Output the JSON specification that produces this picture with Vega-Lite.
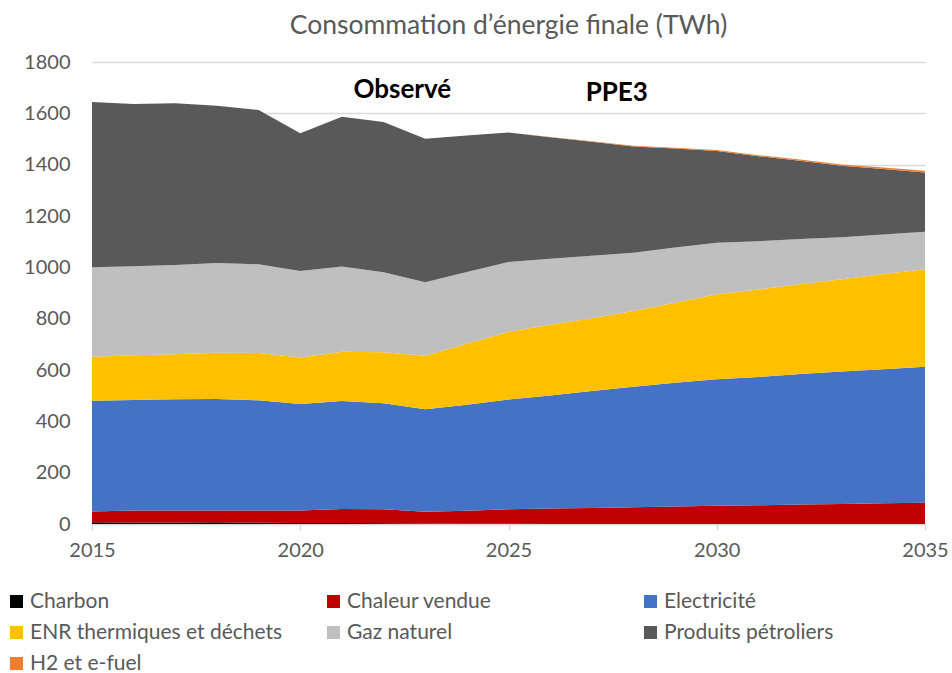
{
  "$schema": "https://vega.github.io/schema/vega-lite/v6.json",
  "width": 833,
  "height": 462,
  "autosize": {"type": "none"},
  "padding": {"left": 92, "top": 62, "right": 27, "bottom": 149},
  "background": "white",
  "config": {
    "font": "Lato",
    "view": {"stroke": null},
    "axis": {"labelFont": "Lato", "labelColor": "#595959", "labelFontSize": 20}
  },
  "title": {
    "text": "Consommation d’énergie finale (TWh)",
    "font": "Lato",
    "fontSize": 26.5,
    "fontWeight": "normal",
    "color": "#595959",
    "anchor": "middle",
    "offset": 13
  },
  "datasets": {
    "ordre": [
      {"energie": "Charbon", "rang": 1},
      {"energie": "Chaleur vendue", "rang": 2},
      {"energie": "Electricité", "rang": 3},
      {"energie": "ENR thermiques et déchets", "rang": 4},
      {"energie": "Gaz naturel", "rang": 5},
      {"energie": "Produits pétroliers", "rang": 6},
      {"energie": "H2 et e-fuel", "rang": 7}
    ],
    "conso": [
      {"annee": 2015, "energie": "Charbon", "valeur": 7}, {"annee": 2015, "energie": "Chaleur vendue", "valeur": 42}, {"annee": 2015, "energie": "Electricité", "valeur": 431}, {"annee": 2015, "energie": "ENR thermiques et déchets", "valeur": 172}, {"annee": 2015, "energie": "Gaz naturel", "valeur": 348}, {"annee": 2015, "energie": "Produits pétroliers", "valeur": 644}, {"annee": 2015, "energie": "H2 et e-fuel", "valeur": 0},
      {"annee": 2016, "energie": "Charbon", "valeur": 6}, {"annee": 2016, "energie": "Chaleur vendue", "valeur": 47}, {"annee": 2016, "energie": "Electricité", "valeur": 430}, {"annee": 2016, "energie": "ENR thermiques et déchets", "valeur": 174}, {"annee": 2016, "energie": "Gaz naturel", "valeur": 347}, {"annee": 2016, "energie": "Produits pétroliers", "valeur": 632}, {"annee": 2016, "energie": "H2 et e-fuel", "valeur": 0},
      {"annee": 2017, "energie": "Charbon", "valeur": 6}, {"annee": 2017, "energie": "Chaleur vendue", "valeur": 47}, {"annee": 2017, "energie": "Electricité", "valeur": 433}, {"annee": 2017, "energie": "ENR thermiques et déchets", "valeur": 175}, {"annee": 2017, "energie": "Gaz naturel", "valeur": 348}, {"annee": 2017, "energie": "Produits pétroliers", "valeur": 630}, {"annee": 2017, "energie": "H2 et e-fuel", "valeur": 0},
      {"annee": 2018, "energie": "Charbon", "valeur": 7}, {"annee": 2018, "energie": "Chaleur vendue", "valeur": 46}, {"annee": 2018, "energie": "Electricité", "valeur": 434}, {"annee": 2018, "energie": "ENR thermiques et déchets", "valeur": 180}, {"annee": 2018, "energie": "Gaz naturel", "valeur": 350}, {"annee": 2018, "energie": "Produits pétroliers", "valeur": 613}, {"annee": 2018, "energie": "H2 et e-fuel", "valeur": 0},
      {"annee": 2019, "energie": "Charbon", "valeur": 5}, {"annee": 2019, "energie": "Chaleur vendue", "valeur": 48}, {"annee": 2019, "energie": "Electricité", "valeur": 429}, {"annee": 2019, "energie": "ENR thermiques et déchets", "valeur": 184}, {"annee": 2019, "energie": "Gaz naturel", "valeur": 346}, {"annee": 2019, "energie": "Produits pétroliers", "valeur": 601}, {"annee": 2019, "energie": "H2 et e-fuel", "valeur": 0},
      {"annee": 2020, "energie": "Charbon", "valeur": 4}, {"annee": 2020, "energie": "Chaleur vendue", "valeur": 49}, {"annee": 2020, "energie": "Electricité", "valeur": 415}, {"annee": 2020, "energie": "ENR thermiques et déchets", "valeur": 181}, {"annee": 2020, "energie": "Gaz naturel", "valeur": 337}, {"annee": 2020, "energie": "Produits pétroliers", "valeur": 536}, {"annee": 2020, "energie": "H2 et e-fuel", "valeur": 0},
      {"annee": 2021, "energie": "Charbon", "valeur": 4}, {"annee": 2021, "energie": "Chaleur vendue", "valeur": 54}, {"annee": 2021, "energie": "Electricité", "valeur": 421}, {"annee": 2021, "energie": "ENR thermiques et déchets", "valeur": 192}, {"annee": 2021, "energie": "Gaz naturel", "valeur": 332}, {"annee": 2021, "energie": "Produits pétroliers", "valeur": 584}, {"annee": 2021, "energie": "H2 et e-fuel", "valeur": 0},
      {"annee": 2022, "energie": "Charbon", "valeur": 3}, {"annee": 2022, "energie": "Chaleur vendue", "valeur": 54}, {"annee": 2022, "energie": "Electricité", "valeur": 413}, {"annee": 2022, "energie": "ENR thermiques et déchets", "valeur": 199}, {"annee": 2022, "energie": "Gaz naturel", "valeur": 312}, {"annee": 2022, "energie": "Produits pétroliers", "valeur": 585}, {"annee": 2022, "energie": "H2 et e-fuel", "valeur": 0},
      {"annee": 2023, "energie": "Charbon", "valeur": 2}, {"annee": 2023, "energie": "Chaleur vendue", "valeur": 46}, {"annee": 2023, "energie": "Electricité", "valeur": 399}, {"annee": 2023, "energie": "ENR thermiques et déchets", "valeur": 209}, {"annee": 2023, "energie": "Gaz naturel", "valeur": 286}, {"annee": 2023, "energie": "Produits pétroliers", "valeur": 559}, {"annee": 2023, "energie": "H2 et e-fuel", "valeur": 0},
      {"annee": 2024, "energie": "Charbon", "valeur": 1}, {"annee": 2024, "energie": "Chaleur vendue", "valeur": 51}, {"annee": 2024, "energie": "Electricité", "valeur": 413}, {"annee": 2024, "energie": "ENR thermiques et déchets", "valeur": 237}, {"annee": 2024, "energie": "Gaz naturel", "valeur": 280}, {"annee": 2024, "energie": "Produits pétroliers", "valeur": 532}, {"annee": 2024, "energie": "H2 et e-fuel", "valeur": 0},
      {"annee": 2025, "energie": "Charbon", "valeur": 1}, {"annee": 2025, "energie": "Chaleur vendue", "valeur": 56}, {"annee": 2025, "energie": "Electricité", "valeur": 428}, {"annee": 2025, "energie": "ENR thermiques et déchets", "valeur": 264}, {"annee": 2025, "energie": "Gaz naturel", "valeur": 272}, {"annee": 2025, "energie": "Produits pétroliers", "valeur": 504}, {"annee": 2025, "energie": "H2 et e-fuel", "valeur": 0},
      {"annee": 2026, "energie": "Charbon", "valeur": 0}, {"annee": 2026, "energie": "Chaleur vendue", "valeur": 60}, {"annee": 2026, "energie": "Electricité", "valeur": 441}, {"annee": 2026, "energie": "ENR thermiques et déchets", "valeur": 275}, {"annee": 2026, "energie": "Gaz naturel", "valeur": 257}, {"annee": 2026, "energie": "Produits pétroliers", "valeur": 474}, {"annee": 2026, "energie": "H2 et e-fuel", "valeur": 1},
      {"annee": 2027, "energie": "Charbon", "valeur": 0}, {"annee": 2027, "energie": "Chaleur vendue", "valeur": 62}, {"annee": 2027, "energie": "Electricité", "valeur": 456}, {"annee": 2027, "energie": "ENR thermiques et déchets", "valeur": 284}, {"annee": 2027, "energie": "Gaz naturel", "valeur": 243}, {"annee": 2027, "energie": "Produits pétroliers", "valeur": 444}, {"annee": 2027, "energie": "H2 et e-fuel", "valeur": 2},
      {"annee": 2028, "energie": "Charbon", "valeur": 0}, {"annee": 2028, "energie": "Chaleur vendue", "valeur": 65}, {"annee": 2028, "energie": "Electricité", "valeur": 470}, {"annee": 2028, "energie": "ENR thermiques et déchets", "valeur": 295}, {"annee": 2028, "energie": "Gaz naturel", "valeur": 227}, {"annee": 2028, "energie": "Produits pétroliers", "valeur": 414}, {"annee": 2028, "energie": "H2 et e-fuel", "valeur": 3},
      {"annee": 2029, "energie": "Charbon", "valeur": 0}, {"annee": 2029, "energie": "Chaleur vendue", "valeur": 68}, {"annee": 2029, "energie": "Electricité", "valeur": 482}, {"annee": 2029, "energie": "ENR thermiques et déchets", "valeur": 312}, {"annee": 2029, "energie": "Gaz naturel", "valeur": 215}, {"annee": 2029, "energie": "Produits pétroliers", "valeur": 386}, {"annee": 2029, "energie": "H2 et e-fuel", "valeur": 3},
      {"annee": 2030, "energie": "Charbon", "valeur": 0}, {"annee": 2030, "energie": "Chaleur vendue", "valeur": 71}, {"annee": 2030, "energie": "Electricité", "valeur": 493}, {"annee": 2030, "energie": "ENR thermiques et déchets", "valeur": 331}, {"annee": 2030, "energie": "Gaz naturel", "valeur": 201}, {"annee": 2030, "energie": "Produits pétroliers", "valeur": 357}, {"annee": 2030, "energie": "H2 et e-fuel", "valeur": 4},
      {"annee": 2031, "energie": "Charbon", "valeur": 0}, {"annee": 2031, "energie": "Chaleur vendue", "valeur": 73}, {"annee": 2031, "energie": "Electricité", "valeur": 500}, {"annee": 2031, "energie": "ENR thermiques et déchets", "valeur": 341}, {"annee": 2031, "energie": "Gaz naturel", "valeur": 188}, {"annee": 2031, "energie": "Produits pétroliers", "valeur": 331}, {"annee": 2031, "energie": "H2 et e-fuel", "valeur": 4},
      {"annee": 2032, "energie": "Charbon", "valeur": 0}, {"annee": 2032, "energie": "Chaleur vendue", "valeur": 76}, {"annee": 2032, "energie": "Electricité", "valeur": 508}, {"annee": 2032, "energie": "ENR thermiques et déchets", "valeur": 350}, {"annee": 2032, "energie": "Gaz naturel", "valeur": 176}, {"annee": 2032, "energie": "Produits pétroliers", "valeur": 305}, {"annee": 2032, "energie": "H2 et e-fuel", "valeur": 5},
      {"annee": 2033, "energie": "Charbon", "valeur": 0}, {"annee": 2033, "energie": "Chaleur vendue", "valeur": 78}, {"annee": 2033, "energie": "Electricité", "valeur": 516}, {"annee": 2033, "energie": "ENR thermiques et déchets", "valeur": 360}, {"annee": 2033, "energie": "Gaz naturel", "valeur": 163}, {"annee": 2033, "energie": "Produits pétroliers", "valeur": 279}, {"annee": 2033, "energie": "H2 et e-fuel", "valeur": 5},
      {"annee": 2034, "energie": "Charbon", "valeur": 0}, {"annee": 2034, "energie": "Chaleur vendue", "valeur": 81}, {"annee": 2034, "energie": "Electricité", "valeur": 522}, {"annee": 2034, "energie": "ENR thermiques et déchets", "valeur": 371}, {"annee": 2034, "energie": "Gaz naturel", "valeur": 154}, {"annee": 2034, "energie": "Produits pétroliers", "valeur": 255}, {"annee": 2034, "energie": "H2 et e-fuel", "valeur": 6},
      {"annee": 2035, "energie": "Charbon", "valeur": 0}, {"annee": 2035, "energie": "Chaleur vendue", "valeur": 83}, {"annee": 2035, "energie": "Electricité", "valeur": 530}, {"annee": 2035, "energie": "ENR thermiques et déchets", "valeur": 380}, {"annee": 2035, "energie": "Gaz naturel", "valeur": 146}, {"annee": 2035, "energie": "Produits pétroliers", "valeur": 230}, {"annee": 2035, "energie": "H2 et e-fuel", "valeur": 7}
    ],
    "etiquettes": [
      {"annee": 2022.45, "valeur": 1690, "texte": "Observé"},
      {"annee": 2027.6, "valeur": 1680, "texte": "PPE3"}
    ]
  },
  "layer": [
    {
      "data": {"name": "conso"},
      "transform": [
        {"lookup": "energie", "from": {"data": {"name": "ordre"}, "key": "energie", "fields": ["rang"]}}
      ],
      "mark": {"type": "area", "interpolate": "linear"},
      "encoding": {
        "x": {
          "field": "annee", "type": "quantitative",
          "scale": {"domain": [2015, 2035], "nice": false, "zero": false},
          "axis": {
            "title": null, "values": [2015, 2020, 2025, 2030, 2035], "format": "d",
            "grid": false, "domainColor": "#D9D9D9", "domainWidth": 1.5,
            "tickColor": "#D9D9D9", "tickSize": 6, "tickWidth": 1.5,
            "labelPadding": 10, "labelFlush": false, "labelOverlap": false
          }
        },
        "y": {
          "field": "valeur", "type": "quantitative",
          "stack": "zero",
          "scale": {"domain": [0, 1800], "nice": false},
          "axis": {
            "title": null, "values": [0, 200, 400, 600, 800, 1000, 1200, 1400, 1600, 1800],
            "format": "d",
            "grid": true, "gridColor": "#D9D9D9", "gridWidth": 1.5,
            "domain": false, "ticks": false, "labelPadding": 22
          }
        },
        "order": {"field": "rang", "type": "quantitative", "sort": "ascending"},
        "color": {
          "field": "energie", "type": "nominal",
          "scale": {
            "domain": ["Charbon", "Chaleur vendue", "Electricité", "ENR thermiques et déchets", "Gaz naturel", "Produits pétroliers", "H2 et e-fuel"],
            "range": ["#000000", "#C00000", "#4472C4", "#FFC000", "#BFBFBF", "#595959", "#ED7D31"]
          },
          "legend": {
            "title": null, "orient": "none", "legendX": -86, "legendY": 529,
            "direction": "horizontal", "columns": 3, "columnPadding": 40,
            "rowPadding": 9, "symbolType": "square", "symbolSize": 170,
            "symbolStrokeWidth": 0, "labelFontSize": 21, "labelColor": "#595959",
            "labelFont": "Lato", "labelLimit": 320, "clipHeight": 21,
            "symbolOffset": 0, "labelOffset": 3, "gridAlign": "all",
            "padding": 0
          }
        }
      }
    },
    {
      "mark": {"type": "rule", "color": "#000000", "strokeWidth": 2, "y": -5, "y2": {"expr": "height"}},
      "encoding": {"x": {"datum": 2025, "type": "quantitative"}}
    },
    {
      "data": {"name": "etiquettes"},
      "mark": {"type": "text", "font": "Lato", "fontSize": 26, "fontWeight": "bold", "color": "#000000", "align": "center", "baseline": "middle"},
      "encoding": {
        "x": {"field": "annee", "type": "quantitative"},
        "y": {"field": "valeur", "type": "quantitative"},
        "text": {"field": "texte"}
      }
    }
  ]
}
